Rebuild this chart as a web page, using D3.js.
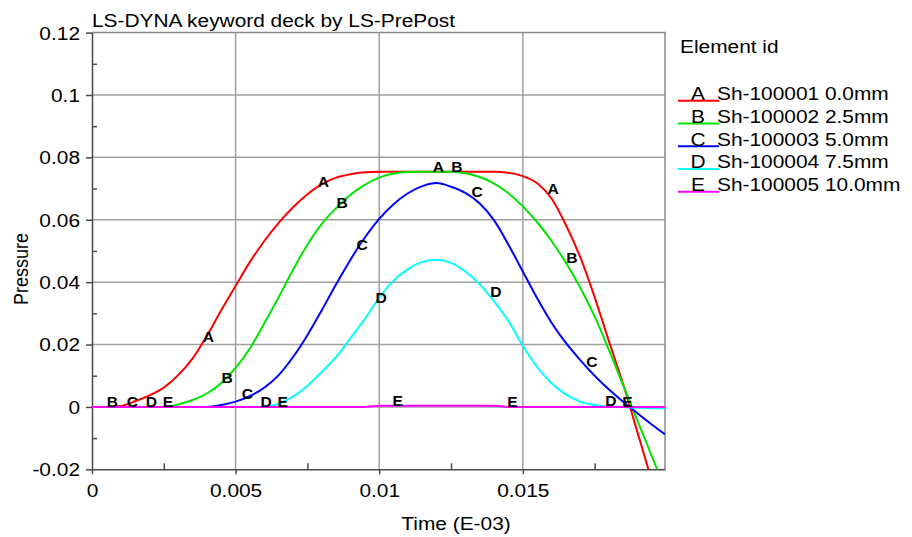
<!DOCTYPE html>
<html>
<head>
<meta charset="utf-8">
<script src="https://cdn.jsdelivr.net/npm/d3@7"></script>
<style>
  html, body { margin: 0; padding: 0; background: #fff; }
  svg { display: block; font-family: "Liberation Sans", Arial, sans-serif; }
</style>
</head>
<body>
<svg id="chart" width="912" height="537"></svg>
<script>
// Output times (ms) shared by every element history
const times = [0, 0.0005, 0.001, 0.0015, 0.002, 0.0025, 0.003, 0.0035, 0.004, 0.0045,
  0.005, 0.0055, 0.006, 0.0065, 0.007, 0.0075, 0.008, 0.0085, 0.009, 0.0095,
  0.01, 0.0105, 0.011, 0.0115, 0.012, 0.0125, 0.013, 0.0135, 0.014, 0.0145,
  0.015, 0.0155, 0.016, 0.0165, 0.017, 0.0175, 0.018, 0.0185, 0.019, 0.0195, 0.01995];

// Pressure histories, one per shell element
const pressA = [0, 0, 0.0003, 0.0018, 0.0037, 0.0062, 0.0102, 0.0155, 0.0228, 0.0310,
  0.0388, 0.0465, 0.0532, 0.0590, 0.0640, 0.0682, 0.0714, 0.0735, 0.0746, 0.0752,
  0.0754, 0.0754, 0.0754, 0.0754, 0.0754, 0.0754, 0.0754, 0.0754, 0.0754, 0.0751,
  0.0740, 0.0717, 0.0668, 0.0583, 0.0480, 0.0352, 0.0210, 0.0071, -0.0084, -0.0240, -0.0380];
const pressB = [0, 0, 0, 0, 0, 0, 0.0008, 0.0022, 0.0043, 0.0077,
  0.0125, 0.0188, 0.0268, 0.0352, 0.0440, 0.0520, 0.0587, 0.0637, 0.0680, 0.0712,
  0.0735, 0.0748, 0.0753, 0.0754, 0.0754, 0.0754, 0.0749, 0.0737, 0.0716, 0.0685,
  0.0643, 0.0592, 0.0532, 0.0462, 0.0382, 0.0290, 0.0182, 0.0068, -0.0046, -0.0160, -0.0262];
const pressC = [0, 0, 0, 0, 0, 0, 0, 0, 0, 0.0006,
  0.0017, 0.0035, 0.0062, 0.0102, 0.0160, 0.0230, 0.0310, 0.0393, 0.0472, 0.0543,
  0.0603, 0.0650, 0.0685, 0.0708, 0.0718, 0.0706, 0.0686, 0.0652, 0.0598, 0.0520,
  0.0434, 0.0348, 0.0270, 0.0205, 0.0150, 0.0100, 0.0056, 0.0016, -0.0021, -0.0057, -0.0088];
const pressD = [0, 0, 0, 0, 0, 0, 0, 0, 0, 0,
  0, 0, 0, 0.0010, 0.0033, 0.0068, 0.0112, 0.0160, 0.0220, 0.0282,
  0.0350, 0.0405, 0.0442, 0.0465, 0.0472, 0.0462, 0.0434, 0.0393, 0.0338, 0.0275,
  0.0196, 0.0128, 0.0076, 0.0040, 0.0017, 0.0006, 0.0001, 0, -0.0003, -0.0004, -0.0004];
const pressE = [0, 0, 0, 0, 0, 0, 0, 0, 0, 0,
  0, 0, 0, 0, 0, 0, 0, 0, 0, 0,
  0.0004, 0.0004, 0.0004, 0.0004, 0.0004, 0.0004, 0.0004, 0.0004, 0.0004, 0,
  0, 0, 0, 0, 0, 0, 0, 0, 0, 0, 0];

// Curve identifiers, legend text and the times at which each identifier is stamped
const curveLetters = ["A", "B", "C", "D", "E"];
const curveNames = ["Sh-100001 0.0mm", "Sh-100002 2.5mm", "Sh-100003 5.0mm", "Sh-100004 7.5mm", "Sh-100005 10.0mm"];
const curveColors = ["#ff0000", "#00e600", "#0000ff", "#00ffff", "#ff00ff"];
const labelTimesA = [0.00386, 0.00786, 0.01186, 0.01586];
const labelTimesB = [0.00051, 0.00451, 0.00851, 0.01251, 0.01651];
const labelTimesC = [0.00121, 0.00521, 0.00921, 0.01321, 0.01721];
const labelTimesD = [0.00187, 0.00587, 0.00987, 0.01387, 0.01787];
const labelTimesE = [0.00246, 0.00646, 0.01046, 0.01446, 0.01846];

// Axis ticks
const xTicks = [0, 0.005, 0.01, 0.015];
const xTickLabels = ["0", "0.005", "0.01", "0.015"];
const xMinorTicks = [0.0025, 0.0075, 0.0125, 0.0175];
const yTicks = [-0.02, 0, 0.02, 0.04, 0.06, 0.08, 0.1, 0.12];
const yTickLabels = ["-0.02", "0", "0.02", "0.04", "0.06", "0.08", "0.1", "0.12"];
const yMinorTicks = [-0.01, 0.01, 0.03, 0.05, 0.07, 0.09, 0.11];

const seriesValues = [pressA, pressB, pressC, pressD, pressE];
const seriesLabelTimes = [labelTimesA, labelTimesB, labelTimesC, labelTimesD, labelTimesE];

const SX = 1.16; // horizontal glyph stretch used for the text
const svg = d3.select("#chart");

const plot = { left: 92, right: 665, top: 32.6, bottom: 469.3 };
const x = d3.scaleLinear().domain([0, times[times.length - 1]]).range([plot.left, plot.right]);
const y = d3.scaleLinear().domain([-0.02, 0.12]).range([plot.bottom, plot.top]);

function stretchedText(parent, px, py, str, size, anchor, sx) {
  return parent.append("text")
    .attr("transform", `translate(${px},${py}) scale(${sx || SX},1)`)
    .attr("text-anchor", anchor || "start")
    .attr("font-size", size)
    .attr("fill", "#000")
    .text(str);
}

// Grid
const grid = svg.append("g").attr("stroke", "#a0a0a0").attr("stroke-width", 1.5);
grid.selectAll(".gx").data(xTicks.filter(t => t > 0)).join("line")
  .attr("x1", d => x(d)).attr("x2", d => x(d))
  .attr("y1", plot.top).attr("y2", plot.bottom);
grid.selectAll(".gy").data(yTicks.filter(t => t > -0.02 && t < 0.12)).join("line")
  .attr("x1", plot.left).attr("x2", plot.right)
  .attr("y1", d => y(d)).attr("y2", d => y(d));

// Top and right frame
svg.append("path")
  .attr("d", `M${plot.left},${plot.top}H${plot.right}V${plot.bottom}`)
  .attr("fill", "none").attr("stroke", "#8a8a8a").attr("stroke-width", 1.5);

// Bottom axis
const xAxis = svg.append("g")
  .attr("transform", `translate(0,${plot.bottom})`)
  .call(d3.axisBottom(x).tickValues(xTicks).tickSize(5).tickSizeOuter(0)
    .tickFormat((d, i) => xTickLabels[i]));
svg.append("g")
  .attr("transform", `translate(0,${plot.bottom})`)
  .call(d3.axisBottom(x).tickValues(xMinorTicks).tickSize(-6).tickSizeOuter(0).tickFormat(""))
  .call(g => g.select(".domain").remove());

// Left axis
const yAxis = svg.append("g")
  .attr("transform", `translate(${plot.left},0)`)
  .call(d3.axisLeft(y).tickValues(yTicks).tickSize(6).tickSizeOuter(0)
    .tickFormat((d, i) => yTickLabels[i]));
svg.append("g")
  .attr("transform", `translate(${plot.left},0)`)
  .call(d3.axisLeft(y).tickValues(yMinorTicks).tickSize(-5).tickSizeOuter(0).tickFormat(""))
  .call(g => g.select(".domain").remove());

svg.selectAll(".domain, .tick line").attr("stroke", "#4a4a4a").attr("stroke-width", 1.5);
svg.selectAll(".tick text").attr("fill", "#000").attr("font-size", 18)
  .attr("font-family", "Liberation Sans, Arial, sans-serif");
xAxis.selectAll(".tick text").attr("y", null).attr("dy", null)
  .attr("transform", `translate(0,27.3) scale(${SX},1)`);
yAxis.selectAll(".tick text").attr("x", null).attr("dy", null)
  .attr("transform", `translate(-12,6.4) scale(${SX},1)`);

// Pressure curves
svg.append("clipPath").attr("id", "plot-clip")
  .append("rect").attr("x", plot.left).attr("y", plot.top)
  .attr("width", plot.right - plot.left).attr("height", plot.bottom - plot.top);

const line = d3.line().x(d => x(d[0])).y(d => y(d[1])).curve(d3.curveMonotoneX);
const curves = svg.append("g").attr("clip-path", "url(#plot-clip)");
seriesValues.forEach((vals, k) => {
  curves.append("path")
    .datum(times.map((t, i) => [t, vals[i]]))
    .attr("d", line)
    .attr("fill", "none")
    .attr("stroke", curveColors[k])
    .attr("stroke-width", 2)
    .attr("stroke-linejoin", "round");
});

// Curve identifiers stamped along each history
function valueAt(vals, t) {
  const i = Math.min(Math.max(d3.bisectRight(times, t), 1), times.length - 1);
  const t0 = times[i - 1], t1 = times[i];
  return vals[i - 1] + (vals[i] - vals[i - 1]) * (t - t0) / (t1 - t0);
}
const stamps = svg.append("g").attr("font-weight", "bold");
seriesLabelTimes.forEach((ts, k) => {
  ts.forEach(t => {
    stretchedText(stamps, x(t), y(valueAt(seriesValues[k], t)), curveLetters[k], 15, "start", 1.04);
  });
});

// Titles
stretchedText(svg, 92, 26.5, "LS-DYNA keyword deck by LS-PrePost", 18, "start");
stretchedText(svg, 456, 530, "Time (E-03)", 18, "middle");
svg.append("text")
  .attr("transform", `translate(28.3,269) scale(${SX},1) rotate(-90)`)
  .attr("text-anchor", "middle").attr("font-size", 18).attr("fill", "#000")
  .text("Pressure");

// Legend
const legend = svg.append("g");
stretchedText(legend, 680, 53, "Element id", 18, "start");
curveLetters.forEach((L, k) => {
  const ly = 100 + k * 22.75;
  legend.append("line")
    .attr("x1", 678).attr("x2", 719)
    .attr("y1", ly + 0.7).attr("y2", ly + 0.7)
    .attr("stroke", curveColors[k]).attr("stroke-width", 2);
  stretchedText(legend, 698, ly, L, 18, "middle");
  stretchedText(legend, 717, ly, curveNames[k], 18, "start");
});
</script>
</body>
</html>
